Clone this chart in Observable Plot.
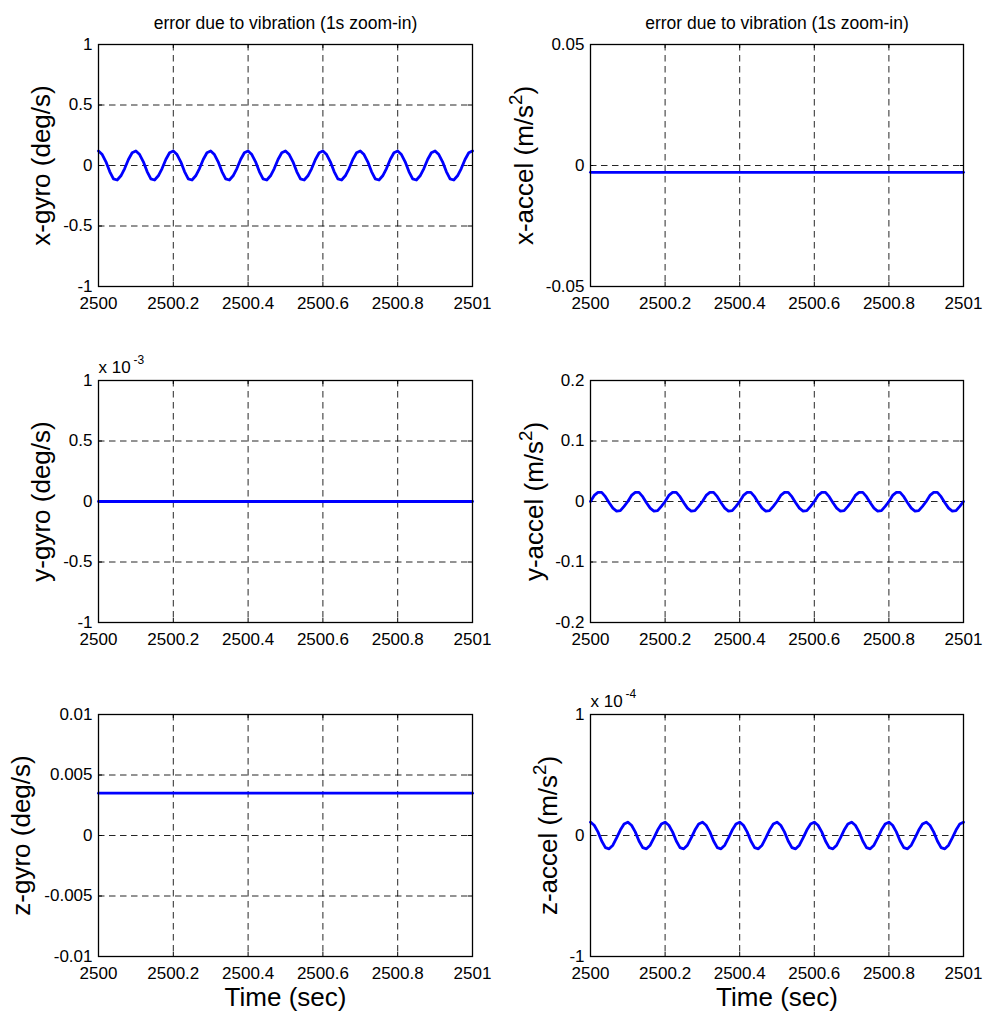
<!DOCTYPE html>
<html><head><meta charset="utf-8">
<script src="https://cdn.jsdelivr.net/npm/d3@7"></script>
<script src="https://cdn.jsdelivr.net/npm/@observablehq/plot@0.6"></script>
<style>
body{margin:0;background:#fff;}
#wrap{position:relative;width:983px;height:1012px;overflow:hidden;background:#fff;}
#wrap svg{position:absolute;overflow:visible;}
</style></head><body><div id="wrap"></div>
<script>
// ---- data ----
const time = [
2500,2500.01,2500.02,2500.03,2500.04,2500.05,2500.06,2500.07,2500.08,2500.09,
2500.1,2500.11,2500.12,2500.13,2500.14,2500.15,2500.16,2500.17,2500.18,2500.19,
2500.2,2500.21,2500.22,2500.23,2500.24,2500.25,2500.26,2500.27,2500.28,2500.29,
2500.3,2500.31,2500.32,2500.33,2500.34,2500.35,2500.36,2500.37,2500.38,2500.39,
2500.4,2500.41,2500.42,2500.43,2500.44,2500.45,2500.46,2500.47,2500.48,2500.49,
2500.5,2500.51,2500.52,2500.53,2500.54,2500.55,2500.56,2500.57,2500.58,2500.59,
2500.6,2500.61,2500.62,2500.63,2500.64,2500.65,2500.66,2500.67,2500.68,2500.69,
2500.7,2500.71,2500.72,2500.73,2500.74,2500.75,2500.76,2500.77,2500.78,2500.79,
2500.8,2500.81,2500.82,2500.83,2500.84,2500.85,2500.86,2500.87,2500.88,2500.89,
2500.9,2500.91,2500.92,2500.93,2500.94,2500.95,2500.96,2500.97,2500.98,2500.99,
2501];

const xGyro = [
0.12,0.09,0.03,-0.05,-0.11,-0.12,-0.085,-0.025,0.05,0.105,
0.12,0.09,0.03,-0.05,-0.11,-0.12,-0.085,-0.025,0.05,0.105,
0.12,0.09,0.03,-0.05,-0.11,-0.12,-0.085,-0.025,0.05,0.105,
0.12,0.09,0.03,-0.05,-0.11,-0.12,-0.085,-0.025,0.05,0.105,
0.12,0.09,0.03,-0.05,-0.11,-0.12,-0.085,-0.025,0.05,0.105,
0.12,0.09,0.03,-0.05,-0.11,-0.12,-0.085,-0.025,0.05,0.105,
0.12,0.09,0.03,-0.05,-0.11,-0.12,-0.085,-0.025,0.05,0.105,
0.12,0.09,0.03,-0.05,-0.11,-0.12,-0.085,-0.025,0.05,0.105,
0.12,0.09,0.03,-0.05,-0.11,-0.12,-0.085,-0.025,0.05,0.105,
0.12,0.09,0.03,-0.05,-0.11,-0.12,-0.085,-0.025,0.05,0.105,
0.12];

// y-gyro in units of 1e-3 deg/s
const yGyroE3 = [
0,0,0,0,0,0,0,0,0,0, 0,0,0,0,0,0,0,0,0,0, 0,0,0,0,0,0,0,0,0,0,
0,0,0,0,0,0,0,0,0,0, 0,0,0,0,0,0,0,0,0,0, 0,0,0,0,0,0,0,0,0,0,
0,0,0,0,0,0,0,0,0,0, 0,0,0,0,0,0,0,0,0,0, 0,0,0,0,0,0,0,0,0,0,
0,0,0,0,0,0,0,0,0,0, 0];

const zGyro = [
0.0035,0.0035,0.0035,0.0035,0.0035,0.0035,0.0035,0.0035,0.0035,0.0035,
0.0035,0.0035,0.0035,0.0035,0.0035,0.0035,0.0035,0.0035,0.0035,0.0035,
0.0035,0.0035,0.0035,0.0035,0.0035,0.0035,0.0035,0.0035,0.0035,0.0035,
0.0035,0.0035,0.0035,0.0035,0.0035,0.0035,0.0035,0.0035,0.0035,0.0035,
0.0035,0.0035,0.0035,0.0035,0.0035,0.0035,0.0035,0.0035,0.0035,0.0035,
0.0035,0.0035,0.0035,0.0035,0.0035,0.0035,0.0035,0.0035,0.0035,0.0035,
0.0035,0.0035,0.0035,0.0035,0.0035,0.0035,0.0035,0.0035,0.0035,0.0035,
0.0035,0.0035,0.0035,0.0035,0.0035,0.0035,0.0035,0.0035,0.0035,0.0035,
0.0035,0.0035,0.0035,0.0035,0.0035,0.0035,0.0035,0.0035,0.0035,0.0035,
0.0035,0.0035,0.0035,0.0035,0.0035,0.0035,0.0035,0.0035,0.0035,0.0035,
0.0035];

const xAccel = [
-0.0028,-0.0028,-0.0028,-0.0028,-0.0028,-0.0028,-0.0028,-0.0028,-0.0028,-0.0028,
-0.0028,-0.0028,-0.0028,-0.0028,-0.0028,-0.0028,-0.0028,-0.0028,-0.0028,-0.0028,
-0.0028,-0.0028,-0.0028,-0.0028,-0.0028,-0.0028,-0.0028,-0.0028,-0.0028,-0.0028,
-0.0028,-0.0028,-0.0028,-0.0028,-0.0028,-0.0028,-0.0028,-0.0028,-0.0028,-0.0028,
-0.0028,-0.0028,-0.0028,-0.0028,-0.0028,-0.0028,-0.0028,-0.0028,-0.0028,-0.0028,
-0.0028,-0.0028,-0.0028,-0.0028,-0.0028,-0.0028,-0.0028,-0.0028,-0.0028,-0.0028,
-0.0028,-0.0028,-0.0028,-0.0028,-0.0028,-0.0028,-0.0028,-0.0028,-0.0028,-0.0028,
-0.0028,-0.0028,-0.0028,-0.0028,-0.0028,-0.0028,-0.0028,-0.0028,-0.0028,-0.0028,
-0.0028,-0.0028,-0.0028,-0.0028,-0.0028,-0.0028,-0.0028,-0.0028,-0.0028,-0.0028,
-0.0028,-0.0028,-0.0028,-0.0028,-0.0028,-0.0028,-0.0028,-0.0028,-0.0028,-0.0028,
-0.0028];

const yAccel = [
0,0.01,0.015,0.015,0.008,-0.002,-0.011,-0.016,-0.015,-0.008,
0,0.01,0.015,0.015,0.008,-0.002,-0.011,-0.016,-0.015,-0.008,
0,0.01,0.015,0.015,0.008,-0.002,-0.011,-0.016,-0.015,-0.008,
0,0.01,0.015,0.015,0.008,-0.002,-0.011,-0.016,-0.015,-0.008,
0,0.01,0.015,0.015,0.008,-0.002,-0.011,-0.016,-0.015,-0.008,
0,0.01,0.015,0.015,0.008,-0.002,-0.011,-0.016,-0.015,-0.008,
0,0.01,0.015,0.015,0.008,-0.002,-0.011,-0.016,-0.015,-0.008,
0,0.01,0.015,0.015,0.008,-0.002,-0.011,-0.016,-0.015,-0.008,
0,0.01,0.015,0.015,0.008,-0.002,-0.011,-0.016,-0.015,-0.008,
0,0.01,0.015,0.015,0.008,-0.002,-0.011,-0.016,-0.015,-0.008,
0];

// z-accel in units of 1e-4 m/s^2
const zAccelE4 = [
0.11,0.085,0.03,-0.045,-0.1,-0.11,-0.08,-0.02,0.045,0.095,
0.11,0.085,0.03,-0.045,-0.1,-0.11,-0.08,-0.02,0.045,0.095,
0.11,0.085,0.03,-0.045,-0.1,-0.11,-0.08,-0.02,0.045,0.095,
0.11,0.085,0.03,-0.045,-0.1,-0.11,-0.08,-0.02,0.045,0.095,
0.11,0.085,0.03,-0.045,-0.1,-0.11,-0.08,-0.02,0.045,0.095,
0.11,0.085,0.03,-0.045,-0.1,-0.11,-0.08,-0.02,0.045,0.095,
0.11,0.085,0.03,-0.045,-0.1,-0.11,-0.08,-0.02,0.045,0.095,
0.11,0.085,0.03,-0.045,-0.1,-0.11,-0.08,-0.02,0.045,0.095,
0.11,0.085,0.03,-0.045,-0.1,-0.11,-0.08,-0.02,0.045,0.095,
0.11,0.085,0.03,-0.045,-0.1,-0.11,-0.08,-0.02,0.045,0.095,
0.11];

const xTicks = [2500, 2500.2, 2500.4, 2500.6, 2500.8, 2501];
const xTickLabels = ["2500", "2500.2", "2500.4", "2500.6", "2500.8", "2501"];
const titleText = "error due to vibration (1s zoom-in)";
const xLabelText = "Time (sec)";

const yTicksXGyro = [-1, -0.5, 0, 0.5, 1];
const yTicksYGyro = [-1, -0.5, 0, 0.5, 1];
const yTicksZGyro = [-0.01, -0.005, 0, 0.005, 0.01];
const yTicksXAccel = [-0.05, 0, 0.05];
const yTicksYAccel = [-0.2, -0.1, 0, 0.1, 0.2];
const yTicksZAccel = [-1, 0, 1];

const yLabels = ["x-gyro (deg/s)", "y-gyro (deg/s)", "z-gyro (deg/s)",
                 "x-accel (m/s²)", "y-accel (m/s²)", "z-accel (m/s²)"];

// ---- layout ----
const FONT = "'Liberation Sans', Arial, Helvetica, sans-serif";
const TICK_FS = 17, LABEL_FS = 26, TITLE_FS = 17.5;
const FRAME_W = 374, FRAME_H = 242, TICK_LEN = 4;
const wrap = document.getElementById("wrap");

const panels = [
  {left: 0,   top: 0,   col: 0, row: 0, values: xGyro,    ticks: yTicksXGyro, label: yLabels[0], labelDx: -57, title: true},
  {left: 0,   top: 336, col: 0, row: 1, values: yGyroE3,  ticks: yTicksYGyro, label: yLabels[1], labelDx: -57, mult: "-3"},
  {left: 0,   top: 670, col: 0, row: 2, values: zGyro,    ticks: yTicksZGyro, label: yLabels[2], labelDx: -77, xlabel: true},
  {left: 491, top: 0,   col: 1, row: 0, values: xAccel,   ticks: yTicksXAccel, label: yLabels[3], labelDx: -66, title: true},
  {left: 491, top: 336, col: 1, row: 1, values: yAccel,   ticks: yTicksYAccel, label: yLabels[4], labelDx: -56},
  {left: 491, top: 670, col: 1, row: 2, values: zAccelE4, ticks: yTicksZAccel, label: yLabels[5], labelDx: -42, xlabel: true, mult: "-4"}
];

function supify(svg, fs) {
  const ns = "http://www.w3.org/2000/svg";
  svg.querySelectorAll("text").forEach(t => {
    const s = t.textContent;
    if (!s.includes("²")) return;
    const [a, b] = s.split("²");
    t.textContent = "";
    const s1 = document.createElementNS(ns, "tspan"); s1.textContent = a;
    const s2 = document.createElementNS(ns, "tspan"); s2.textContent = "2";
    s2.setAttribute("font-size", fs * 0.72); s2.setAttribute("dy", -fs * 0.42);
    const s3 = document.createElementNS(ns, "tspan"); s3.textContent = b;
    s3.setAttribute("dy", fs * 0.42);
    t.append(s1, s2, s3);
  });
}

for (const p of panels) {
  const data = time.map((t, i) => ({t, v: p.values[i]}));
  const width = p.col === 0 ? 491 : 492;
  const marginLeft = p.col === 0 ? 98 : 99;
  const marginRight = p.col === 0 ? 19 : 20;
  const marginBottom = p.row === 2 ? 56 : 34;
  const height = 44 + FRAME_H + marginBottom;
  const ticks = p.ticks;
  const fmtY = d => String(d);
  const grid = {stroke: "#000", strokeOpacity: 0.85, strokeWidth: 1, strokeDasharray: "6.5,4.5"};
  const innerX = xTicks.slice(1, -1), innerY = ticks.slice(1, -1);
  const tk = {stroke: "#000", strokeWidth: 1};
  const marks = [
    Plot.gridX(innerX, grid),
    Plot.gridY(innerY, grid),
    // small inward tick marks on all four sides (MATLAB box style)
    Plot.tickX(innerX, {...tk, insetTop: FRAME_H - TICK_LEN}),
    Plot.tickX(innerX, {...tk, insetBottom: FRAME_H - TICK_LEN}),
    Plot.tickY(innerY, {...tk, insetRight: FRAME_W - TICK_LEN}),
    Plot.tickY(innerY, {...tk, insetLeft: FRAME_W - TICK_LEN}),
    Plot.axisX(xTicks, {tickSize: 0, tickPadding: 10, tickFormat: d => xTickLabels[xTicks.indexOf(d)], fontSize: TICK_FS}),
    Plot.axisY(ticks, {tickSize: 0, tickPadding: 6, tickFormat: fmtY, fontSize: TICK_FS}),
    Plot.lineY(data, {x: "t", y: "v", stroke: "#0000ff", strokeWidth: 2.8}),
    Plot.frame({stroke: "#000", strokeWidth: 1.3}),
    Plot.text([p.label], {text: d => d, frameAnchor: "left", textAnchor: "middle", lineAnchor: "middle", rotate: -90, dx: p.labelDx, fontSize: LABEL_FS, fill: "#000"})
  ];
  if (p.title) marks.push(Plot.text([titleText], {text: d => d, frameAnchor: "top", textAnchor: "middle", lineAnchor: "middle", dy: -21, fontSize: TITLE_FS, fill: "#000"}));
  if (p.xlabel) marks.push(Plot.text([xLabelText], {text: d => d, frameAnchor: "bottom", textAnchor: "middle", lineAnchor: "middle", dy: 41, fontSize: LABEL_FS, fill: "#000"}));
  if (p.mult) {
    marks.push(Plot.text(["x 10"], {text: d => d, frameAnchor: "top-left", textAnchor: "start", lineAnchor: "bottom", dy: -8, fontSize: TICK_FS, fill: "#000"}));
    marks.push(Plot.text([p.mult], {text: d => d, frameAnchor: "top-left", textAnchor: "start", lineAnchor: "bottom", dx: 35, dy: -17, fontSize: 12, fill: "#000"}));
  }
  const svg = Plot.plot({
    width, height, marginLeft, marginRight, marginTop: 44, marginBottom,
    style: {fontFamily: FONT, fontSize: TICK_FS + "px", color: "#000", background: "transparent"},
    x: {domain: [2500, 2501], label: null, axis: null},
    y: {domain: [ticks[0], ticks[ticks.length - 1]], label: null, axis: null},
    marks
  });
  svg.style.left = p.left + "px";
  svg.style.top = p.top + "px";
  supify(svg, LABEL_FS);
  wrap.appendChild(svg);
}
</script>
</body></html>
